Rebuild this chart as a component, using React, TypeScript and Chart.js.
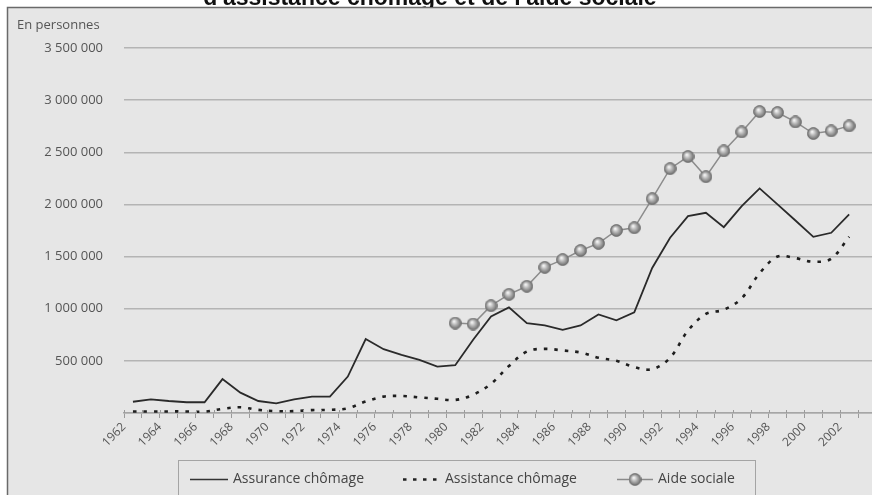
import { useEffect, useRef } from 'react';
import { Chart, registerables } from 'chart.js';

Chart.register(...registerables);

const years = [
  '1962', '1963', '1964', '1965', '1966', '1967', '1968', '1969', '1970', '1971',
  '1972', '1973', '1974', '1975', '1976', '1977', '1978', '1979', '1980', '1981',
  '1982', '1983', '1984', '1985', '1986', '1987', '1988', '1989', '1990', '1991',
  '1992', '1993', '1994', '1995', '1996', '1997', '1998', '1999', '2000', '2001',
  '2002', '2003',
];

const assuranceChomage = [
  108000, 131000, 115000, 103000, 103000, 325000, 195000, 115000, 93000, 131000,
  157000, 157000, 349000, 709000, 612000, 558000, 510000, 445000, 458000, 702000,
  926000, 1013000, 862000, 840000, 798000, 840000, 945000, 888000, 965000, 1391000,
  1680000, 1888000, 1920000, 1782000, 1984000, 2154000, 2000000, 1846000, 1689000, 1728000,
  1904000, null,
];

const assistanceChomage = [
  15000, 15000, 15000, 15000, 12000, 40000, 55000, 30000, 18000, 18000,
  28000, 30000, 45000, 110000, 157000, 163000, 150000, 136000, 125000, 175000,
  280000, 450000, 590000, 615000, 600000, 580000, 530000, 500000, 440000, 420000,
  530000, 790000, 950000, 990000, 1100000, 1340000, 1500000, 1485000, 1450000, 1480000,
  1690000, null,
];

const aideSociale = [
  null, null, null, null, null, null, null, null, null, null,
  null, null, null, null, null, null, null, null, 862000, 853000,
  1029000, 1138000, 1215000, 1397000, 1471000, 1558000, 1627000, 1750000, 1776000, 2055000,
  2343000, 2459000, 2266000, 2513000, 2695000, 2891000, 2881000, 2791000, 2680000, 2705000,
  2753000, null,
];

const seriesNames = ['Assurance chômage', 'Assistance chômage', 'Aide sociale'];
const titleText = "d'assistance chômage et de l'aide sociale";
const unitText = 'En personnes';
const yMax = 3500000;
const yStep = 500000;

function fmt(v: number): string {
  const s = String(Math.round(v));
  return s.replace(/\B(?=(\d{3})+(?!\d))/g, ' ');
}

function makeSphere(size: number): HTMLCanvasElement {
  const c = document.createElement('canvas');
  c.width = size;
  c.height = size;
  const g = c.getContext('2d')!;
  const r = size / 2 - 0.5;
  const grad = g.createRadialGradient(size * 0.4, size * 0.36, 0.5, size / 2, size / 2, r);
  grad.addColorStop(0, '#f4f4f4');
  grad.addColorStop(0.45, '#b4b4b4');
  grad.addColorStop(1, '#6a6a6a');
  g.beginPath();
  g.arc(size / 2, size / 2, r, 0, Math.PI * 2);
  g.fillStyle = grad;
  g.fill();
  g.lineWidth = 0.8;
  g.strokeStyle = '#6e6e6e';
  g.stroke();
  return c;
}

export default function App() {
  const ref = useRef<HTMLCanvasElement | null>(null);

  useEffect(() => {
    if (!ref.current) return;
    const sphere = makeSphere(13);
    const FONT = '"Open Sans", "DejaVu Sans", sans-serif';

    const decor = {
      id: 'decor',
      beforeDraw(chart: any) {
        const ctx = chart.ctx as CanvasRenderingContext2D;
        ctx.save();
        ctx.fillStyle = '#ffffff';
        ctx.fillRect(0, 0, chart.width, chart.height);
        // panel
        ctx.fillStyle = '#e6e6e6';
        ctx.fillRect(7, 7.5, chart.width, chart.height);
        ctx.strokeStyle = '#6a6a6a';
        ctx.lineWidth = 1.5;
        ctx.beginPath();
        ctx.moveTo(7.5, chart.height + 5);
        ctx.lineTo(7.5, 7.5);
        ctx.lineTo(chart.width + 5, 7.5);
        ctx.stroke();
        // clipped title
        ctx.fillStyle = '#111';
        ctx.font = 'bold 23px "Liberation Sans", Arial, sans-serif';
        ctx.textAlign = 'center';
        ctx.textBaseline = 'alphabetic';
        ctx.save();
        ctx.beginPath();
        ctx.rect(0, 0, chart.width, 7);
        ctx.clip();
        ctx.fillText(titleText, 430, 5);
        ctx.restore();
        // unit label
        ctx.fillStyle = '#555';
        ctx.font = '13px ' + FONT;
        ctx.textAlign = 'left';
        ctx.fillText(unitText, 17, 29);
        ctx.restore();
      },
      afterDraw(chart: any) {
        const ctx = chart.ctx as CanvasRenderingContext2D;
        ctx.save();
        // small upward part of the x tick marks (crossing the axis)
        const xs = chart.scales.x;
        const half = (xs.getPixelForValue(1) - xs.getPixelForValue(0)) / 2;
        ctx.strokeStyle = '#9a9a9a';
        ctx.lineWidth = 1;
        ctx.beginPath();
        for (let i = 0; i <= years.length; i++) {
          const px = Math.round(xs.getPixelForValue(0) - half + i * half * 2) + 0.5;
          ctx.moveTo(px, chart.chartArea.bottom - 3);
          ctx.lineTo(px, chart.chartArea.bottom);
        }
        ctx.stroke();
        // legend box
        ctx.strokeStyle = '#a4a4a4';
        ctx.lineWidth = 1;
        ctx.strokeRect(178.5, 460.5, 577, 60);
        const cy = 479.5;
        ctx.font = '14px ' + FONT;
        ctx.fillStyle = '#444';
        ctx.textBaseline = 'middle';
        ctx.textAlign = 'left';
        // item 1
        ctx.strokeStyle = '#333';
        ctx.lineWidth = 1.5;
        ctx.setLineDash([]);
        ctx.beginPath();
        ctx.moveTo(190, cy);
        ctx.lineTo(228, cy);
        ctx.stroke();
        ctx.fillText(seriesNames[0], 233, cy);
        // item 2
        ctx.strokeStyle = '#222';
        ctx.lineWidth = 2.5;
        ctx.setLineDash([3.5, 6.5]);
        ctx.beginPath();
        ctx.moveTo(403, cy);
        ctx.lineTo(440, cy);
        ctx.stroke();
        ctx.setLineDash([]);
        ctx.fillText(seriesNames[1], 445, cy);
        // item 3
        ctx.strokeStyle = '#8a8a8a';
        ctx.lineWidth = 1.5;
        ctx.beginPath();
        ctx.moveTo(617, cy);
        ctx.lineTo(653, cy);
        ctx.stroke();
        ctx.drawImage(sphere, 635 - 6.5, cy - 6.5, 13, 13);
        ctx.fillText(seriesNames[2], 658, cy);
        ctx.restore();
      },
    };

    const chart = new Chart(ref.current, {
      type: 'line',
      data: {
        labels: years,
        datasets: [
          {
            label: seriesNames[0],
            data: assuranceChomage,
            borderColor: '#2a2a2a',
            borderWidth: 1.8,
            pointRadius: 0,
            tension: 0,
          },
          {
            label: seriesNames[1],
            data: assistanceChomage,
            borderColor: '#1e1e1e',
            borderWidth: 2.6,
            borderDash: [3.5, 7],
            pointRadius: 0,
            tension: 0.35,
          },
          {
            label: seriesNames[2],
            data: aideSociale,
            borderColor: '#8c8c8c',
            borderWidth: 1.5,
            pointStyle: sphere,
            pointRadius: 6.5,
            tension: 0,
          },
        ],
      },
      options: {
        animation: false,
        responsive: false,
        devicePixelRatio: 1,
        layout: { padding: { left: 0, top: 48, right: 3, bottom: 0 } },
        plugins: {
          legend: { display: false },
          title: { display: false },
          tooltip: { enabled: false },
        },
        scales: {
          x: {
            type: 'category',
            offset: true,
            grid: {
              offset: true,
              drawOnChartArea: false,
              drawTicks: true,
              tickLength: 5,
              color: '#9a9a9a',
              lineWidth: 1,
            },
            border: { display: true, color: '#a6a6a6', width: 1.5 },
            ticks: {
              autoSkip: false,
              maxRotation: 45,
              minRotation: 45,
              labelOffset: -9,
              padding: 2,
              color: '#555',
              font: { family: FONT, size: 12 },
              callback: function (this: any, v: any, i: number) {
                return i % 2 === 0 ? this.getLabelForValue(v) : '';
              },
            },
            afterFit: (s: any) => {
              s.height = 82;
            },
          },
          y: {
            min: 0,
            max: yMax,
            grid: { color: '#b4b4b4', lineWidth: 1.5, drawTicks: false },
            border: { display: false },
            ticks: {
              stepSize: yStep,
              padding: 21,
              color: '#555',
              font: { family: FONT, size: 13 },
              callback: (v: any) => (Number(v) === 0 ? '' : fmt(Number(v))),
            },
            afterFit: (s: any) => {
              s.width = 124;
            },
          },
        },
      },
      plugins: [decor],
    });

    return () => chart.destroy();
  }, []);

  return (
    <div
      style={{
        position: 'fixed',
        left: 0,
        top: 0,
        width: 872,
        height: 495,
        overflow: 'hidden',
        background: '#fff',
      }}
    >
      <canvas ref={ref} width={884} height={495} style={{ display: 'block', width: 884, height: 495 }} />
    </div>
  );
}
